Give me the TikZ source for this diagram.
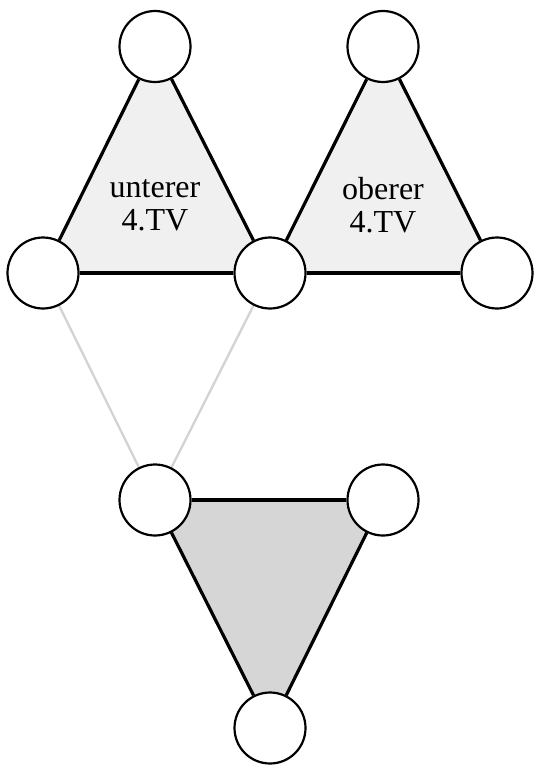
\documentclass[tikz,border=0pt]{standalone}
\usepackage{fontspec}
\setmainfont{Liberation Serif}
\usepackage{tikz}
\usetikzlibrary{backgrounds}
\definecolor{lightfill}{HTML}{F0F0F0}
\definecolor{darkfill}{HTML}{D6D6D6}
\definecolor{linkgray}{HTML}{D3D3D3}

\begin{document}
\begin{tikzpicture}[x=1pt, y=-1pt, main node/.style={circle, draw, fill=white, line width=2.2pt, inner sep=0pt, minimum size=71pt}, edge/.style={line width=3.2pt}, link/.style={draw=linkgray, line width=2.3pt}, label text/.style={align=center, font=\fontsize{32}{33}\selectfont}]
\useasboundingbox (0,0) rectangle (533,765);
\node[main node] (1) at (155,46.5) {};
\node[main node] (2) at (383,46.5) {};
\node[main node] (3) at (43,273) {};
\node[main node] (4) at (270,273) {};
\node[main node] (5) at (497,273) {};
\node[main node] (6) at (155,500) {};
\node[main node] (7) at (383,500) {};
\node[main node] (8) at (270,728) {};
\node[label text] (u) at (155,205) {unterer\\4.TV};
\node[label text] (o) at (383,205) {oberer\\4.TV};
\begin{pgfonlayer}{background}
\fill[lightfill] (1.center) -- (3.center) -- (4.center) -- cycle;
\fill[lightfill] (2.center) -- (4.center) -- (5.center) -- cycle;
\fill[darkfill] (6.center) -- (7.center) -- (8.center) -- cycle;
\path[link] (3) -- (6) (4) -- (6);
\path[edge]
(1) edge (3) (1) edge (4) (3) edge (4)
(2) edge (4) (2) edge (5) (4) edge (5)
(6) edge (7) (6) edge (8) (7) edge (8);
\end{pgfonlayer}
\end{tikzpicture}
\end{document}
